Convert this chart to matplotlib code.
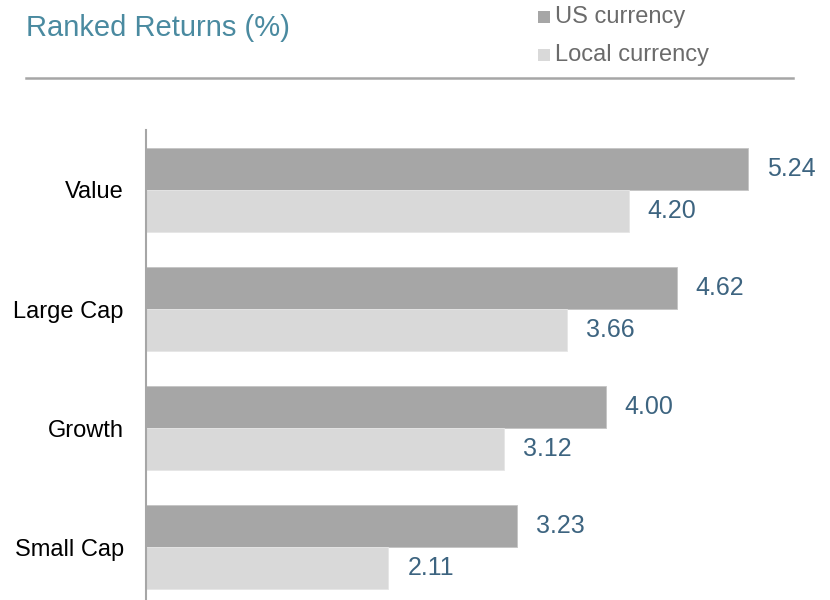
import numpy as np
import matplotlib.pyplot as plt
from matplotlib.patches import Rectangle

plt.rcParams['font.family'] = ['Liberation Sans', 'DejaVu Sans']

categories = ['Value', 'Large Cap', 'Growth', 'Small Cap']
us_currency = [5.24, 4.62, 4.00, 3.23]
local_currency = [4.20, 3.66, 3.12, 2.11]

us_color = '#a6a6a6'
local_color = '#d9d9d9'
label_color = '#3d6480'

fig = plt.figure(figsize=(8.3, 6), dpi=100)
ax = fig.add_axes([146 / 830, 0, 654 / 830, 470 / 600])

y = np.arange(len(categories))
h = 0.353
ax.barh(y - h / 2, us_currency, height=h, color=us_color, edgecolor='#c4c4c4', linewidth=0.6)
ax.barh(y + h / 2, local_currency, height=h, color=local_color, edgecolor='#e6e6e6', linewidth=0.6)

for i in range(len(categories)):
    ax.annotate('{:.2f}'.format(us_currency[i]), (us_currency[i], y[i] - h / 2),
                xytext=(19, 0), textcoords='offset pixels', va='center', ha='left',
                fontsize=18, color=label_color)
    ax.annotate('{:.2f}'.format(local_currency[i]), (local_currency[i], y[i] + h / 2),
                xytext=(19, 0), textcoords='offset pixels', va='center', ha='left',
                fontsize=18, color=label_color)

ax.set_xlim(0, 654 / 114.9)
ax.set_ylim(3.445, -0.504)
ax.set_yticks(y)
ax.set_yticklabels(categories, fontsize=17)
ax.tick_params(axis='y', length=0, pad=16)
ax.set_xticks([])
for s in ['top', 'right', 'bottom']:
    ax.spines[s].set_visible(False)
ax.spines['left'].set_color('#a6a6a6')
ax.spines['left'].set_linewidth(1.5)

# title, rule and legend
fig.text(26 / 830, 1 - 28 / 600, 'Ranked Returns (%)', fontsize=21, color='#4a8aa0',
         ha='left', va='center')
fig.add_artist(plt.Line2D([26 / 830, 793 / 830], [1 - 78 / 600, 1 - 78 / 600],
                          color='#a6a6a6', linewidth=1.8))
for txt, col, yy in [('US currency', us_color, 17), ('Local currency', local_color, 55)]:
    fig.add_artist(Rectangle((538 / 830, 1 - (yy + 6) / 600), 12 / 830, 12 / 600,
                             transform=fig.transFigure, color=col, linewidth=0))
    fig.text(555 / 830, 1 - yy / 600, txt, fontsize=17, color='#6b6b6b', ha='left', va='center')

fig.savefig('out.png', dpi=100)
